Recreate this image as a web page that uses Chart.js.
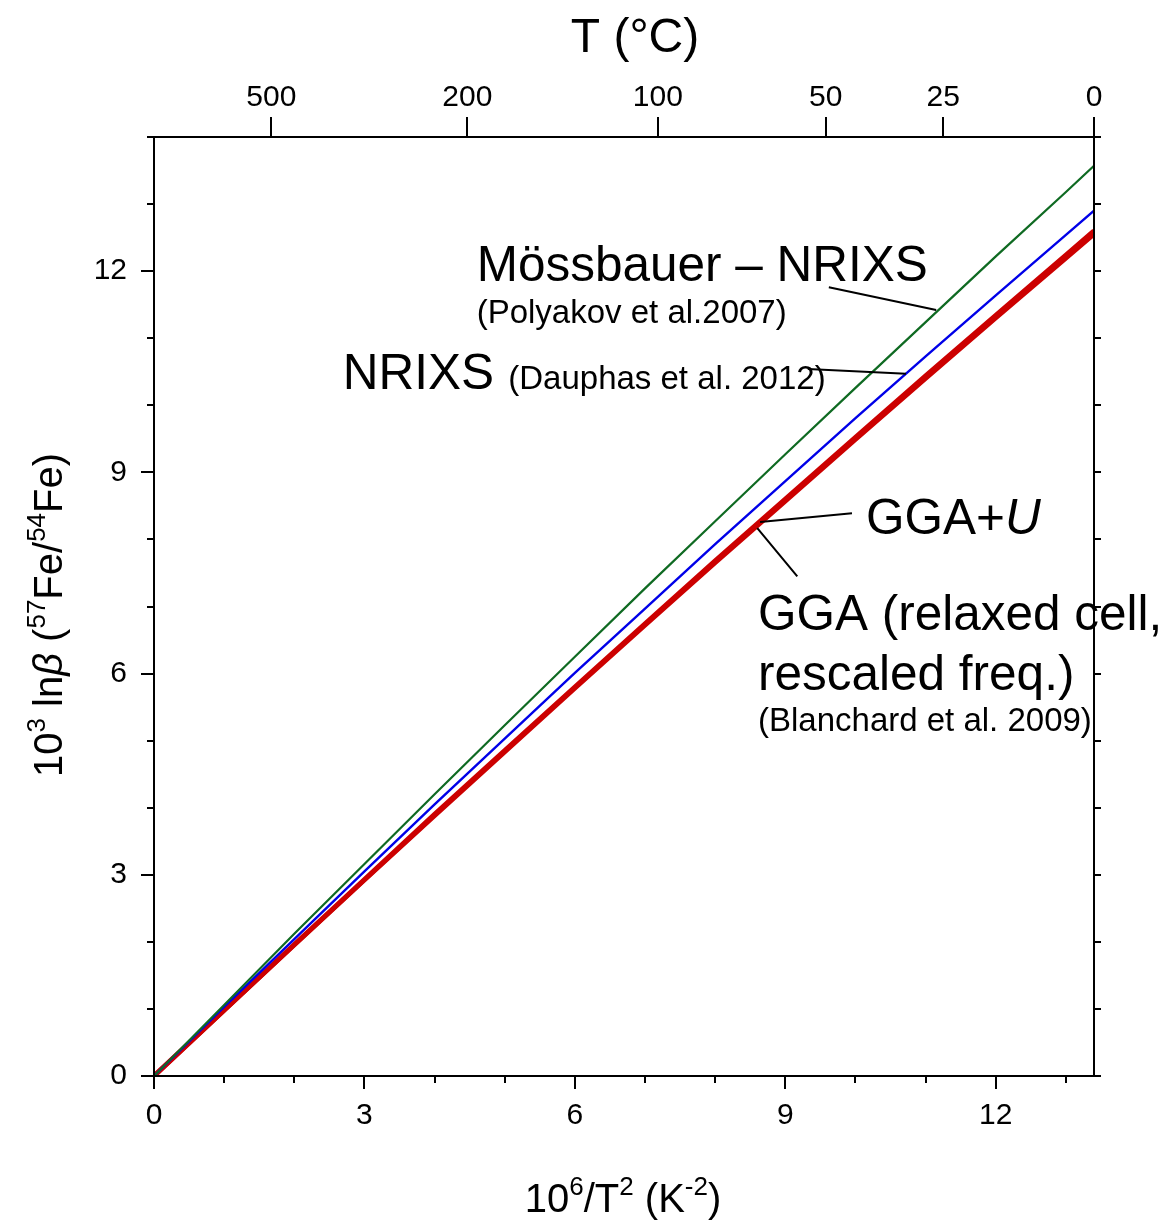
<!DOCTYPE html>
<html>
<head>
<meta charset="utf-8">
<script src="https://cdn.jsdelivr.net/npm/chart.js@4.4.0/dist/chart.umd.min.js"></script>
<style>
  html, body { margin: 0; padding: 0; background: #fff; }
  #wrap { width: 1166px; height: 1223px; }
</style>
</head>
<body>
<div id="wrap"><canvas id="chart" width="1166" height="1223"></canvas></div>
<script>
// 10^6/T^2 (K^-2) sample positions
var invT2 = [0, 1, 2, 3, 4, 5, 6, 7, 8, 9, 10, 11, 12, 13, 13.4];

// 10^3 ln(beta) for 57Fe/54Fe
var mossbauerNrixs = [0, 1.06, 2.12, 3.16, 4.20, 5.23, 6.25, 7.27, 8.27, 9.27, 10.26, 11.24, 12.22, 13.18, 13.57];
var nrixs          = [0, 1.03, 2.04, 3.05, 4.05, 5.03, 6.01, 6.97, 7.93, 8.87, 9.81, 10.73, 11.64, 12.54, 12.90];
var ggaU           = [0, 0.98, 1.96, 2.93, 3.90, 4.85, 5.80, 6.74, 7.68, 8.60, 9.52, 10.44, 11.34, 12.24, 12.60];
var gga            = [0, 0.98, 1.95, 2.92, 3.88, 4.83, 5.78, 6.72, 7.65, 8.57, 9.49, 10.40, 11.30, 12.19, 12.55];

// tick values
var xTicks = [0, 1, 2, 3, 4, 5, 6, 7, 8, 9, 10, 11, 12, 13];
var xLabels = [0, 3, 6, 9, 12];
var yTicks = [0, 1, 2, 3, 4, 5, 6, 7, 8, 9, 10, 11, 12, 13, 14];
var yLabels = [0, 3, 6, 9, 12];
var tempLabels = [500, 200, 100, 50, 25, 0];   // °C on the top axis

var FONT = "'Liberation Sans', Arial, sans-serif";

function pts(ys) {
    return invT2.map(function (x, i) { return { x: x, y: ys[i] }; });
}
function tempToX(t) {
    var k = t + 273.15;
    return 1e6 / (k * k);
}

// draws a run of text pieces, some raised as superscripts
function drawRich(ctx, parts, x, y, size, align) {
    var total = 0;
    parts.forEach(function (p) {
        ctx.font = (p.it ? 'italic ' : '') + (p.sup ? size * 0.65 : size) + 'px ' + FONT;
        p.w = ctx.measureText(p.t).width;
        total += p.w;
    });
    var cx = align === 'center' ? x - total / 2 : x;
    parts.forEach(function (p) {
        ctx.font = (p.it ? 'italic ' : '') + (p.sup ? size * 0.65 : size) + 'px ' + FONT;
        ctx.fillText(p.t, cx, p.sup ? y - size * 0.42 : y);
        cx += p.w;
    });
}

var frame = {
    id: 'frame',
    afterDraw: function (chart) {
        var ctx = chart.ctx, a = chart.chartArea;
        var sx = chart.scales.x, sy = chart.scales.y;
        ctx.save();
        ctx.strokeStyle = '#000';
        ctx.lineWidth = 2;
        ctx.lineCap = 'butt';

        ctx.beginPath();
        ctx.rect(a.left, a.top, a.right - a.left, a.bottom - a.top);
        ctx.stroke();

        ctx.beginPath();
        xTicks.forEach(function (v) {
            var px = Math.round(sx.getPixelForValue(v));
            var len = xLabels.indexOf(v) >= 0 ? 13 : 7;
            ctx.moveTo(px, a.bottom); ctx.lineTo(px, a.bottom + len);
        });
        yTicks.forEach(function (v) {
            var py = Math.round(sy.getPixelForValue(v));
            var len = yLabels.indexOf(v) >= 0 ? 13 : 7;
            ctx.moveTo(a.left, py); ctx.lineTo(a.left - len, py);
            ctx.moveTo(a.right, py); ctx.lineTo(a.right + 7, py);
        });
        tempLabels.forEach(function (t) {
            var px = Math.round(sx.getPixelForValue(tempToX(t)));
            ctx.moveTo(px, a.top); ctx.lineTo(px, a.top - 20);
        });
        ctx.stroke();

        // axis titles
        ctx.fillStyle = '#000';
        ctx.textBaseline = 'alphabetic';
        ctx.textAlign = 'left';
        drawRich(ctx, [{ t: 'T (°C)' }], 635, 52, 48, 'center');
        drawRich(ctx, [{ t: '10' }, { t: '6', sup: true }, { t: '/T' }, { t: '2', sup: true },
                       { t: ' (K' }, { t: '-2', sup: true }, { t: ')' }], 623, 1212, 40, 'center');
        ctx.save();
        ctx.translate(62, 615);
        ctx.rotate(-Math.PI / 2);
        drawRich(ctx, [{ t: '10' }, { t: '3', sup: true }, { t: ' ln' }, { t: 'β', it: true },
                       { t: ' (' }, { t: '57', sup: true }, { t: 'Fe/' }, { t: '54', sup: true },
                       { t: 'Fe)' }], 0, 0, 40, 'center');
        ctx.restore();

        // labels on the curves, placed in data units
        function P(x, y) { return [sx.getPixelForValue(x), sy.getPixelForValue(y)]; }
        function label(parts, x, y, size) {
            var p = P(x, y);
            drawRich(ctx, parts, p[0], p[1], size, 'left');
        }
        label([{ t: 'Mössbauer – NRIXS' }], 4.60, 11.85, 49.5);
        label([{ t: '(Polyakov et al.2007)' }], 4.60, 11.23, 33);
        label([{ t: 'NRIXS' }], 2.69, 10.24, 49.5);
        label([{ t: '(Dauphas et al. 2012)' }], 5.05, 10.24, 33);
        label([{ t: 'GGA+' }, { t: 'U', it: true }], 10.15, 8.08, 49.5);
        label([{ t: 'GGA (relaxed cell,' }], 8.61, 6.65, 49.5);
        label([{ t: 'rescaled freq.)' }], 8.61, 5.75, 49.5);
        label([{ t: '(Blanchard et al. 2009)' }], 8.61, 5.14, 33);

        var leaders = [
            [9.62, 11.76, 11.15, 11.42],
            [9.32, 10.54, 10.72, 10.47],
            [9.95, 8.39, 8.64, 8.26],
            [9.17, 7.45, 8.60, 8.17]
        ];
        ctx.lineWidth = 2;
        ctx.beginPath();
        leaders.forEach(function (l) {
            var p = P(l[0], l[1]), q = P(l[2], l[3]);
            ctx.moveTo(p[0], p[1]); ctx.lineTo(q[0], q[1]);
        });
        ctx.stroke();
        ctx.restore();
    }
};

var tickFont = { family: FONT, size: 30 };

new Chart(document.getElementById('chart').getContext('2d'), {
    type: 'line',
    data: {
        datasets: [
            { label: 'Mössbauer – NRIXS', data: pts(mossbauerNrixs), borderColor: '#0f6a22', borderWidth: 2.2 },
            { label: 'NRIXS', data: pts(nrixs), borderColor: '#0000e8', borderWidth: 2.4 },
            { label: 'GGA+U', data: pts(ggaU), borderColor: '#cc0000', borderWidth: 5 },
            { label: 'GGA', data: pts(gga), borderColor: '#cc0000', borderWidth: 4.5 }
        ]
    },
    options: {
        responsive: false,
        animation: false,
        parsing: false,
        elements: { point: { radius: 0 }, line: { tension: 0, fill: false } },
        layout: { padding: 0 },
        plugins: { legend: { display: false }, tooltip: { enabled: false } },
        scales: {
            x: {
                type: 'linear', position: 'bottom', min: 0, max: 13.4,
                afterBuildTicks: function (s) { s.ticks = xTicks.map(function (v) { return { value: v }; }); },
                afterFit: function (s) { s.height = 147; },
                grid: { display: false, drawTicks: false },
                border: { display: false },
                ticks: {
                    autoSkip: false, maxRotation: 0, padding: 22, color: '#000', font: tickFont,
                    callback: function (v) { return xLabels.indexOf(v) >= 0 ? String(v) : ''; }
                }
            },
            x2: {
                type: 'linear', position: 'top', min: 0, max: 13.4,
                afterBuildTicks: function (s) { s.ticks = tempLabels.map(function (t) { return { value: tempToX(t) }; }); },
                afterFit: function (s) { s.height = 137; },
                grid: { display: false, drawTicks: false },
                border: { display: false },
                ticks: {
                    autoSkip: false, maxRotation: 0, padding: 21, color: '#000', font: tickFont,
                    callback: function (v, i) { return String(tempLabels[i]); }
                }
            },
            y: {
                type: 'linear', position: 'left', min: 0, max: 14,
                afterBuildTicks: function (s) { s.ticks = yTicks.map(function (v) { return { value: v }; }); },
                afterFit: function (s) { s.width = 154; },
                grid: { display: false, drawTicks: false },
                border: { display: false },
                ticks: {
                    autoSkip: false, padding: 27, color: '#000', font: tickFont,
                    callback: function (v) { return yLabels.indexOf(v) >= 0 ? String(v) : ''; }
                }
            },
            y2: {
                type: 'linear', position: 'right', min: 0, max: 14,
                afterFit: function (s) { s.width = 72; },
                grid: { display: false, drawTicks: false },
                border: { display: false },
                ticks: { display: false }
            }
        }
    },
    plugins: [frame]
});
</script>
</body>
</html>
